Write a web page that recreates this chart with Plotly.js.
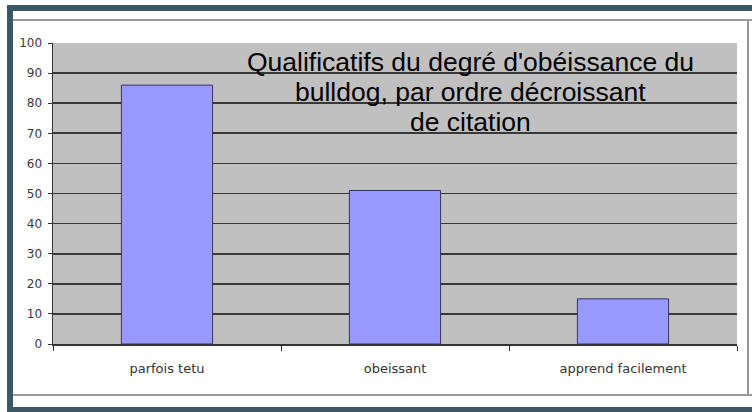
<!DOCTYPE html>
<html>
<head>
<meta charset="utf-8">
<script src="https://cdn.plot.ly/plotly-3.0.1.min.js"></script>
<style>
  html, body { margin: 0; padding: 0; background: #fff; }
  #chart { width: 752px; height: 412px; }
</style>
</head>
<body>
<div id="chart"></div>
<script>
// values
const categories = ['parfois tetu', 'obeissant', 'apprend facilement'];
const citations = [86, 51, 15];
const yTicks = [0, 10, 20, 30, 40, 50, 60, 70, 80, 90, 100];
const titleLines = ["Qualificatifs du degré d'obéissance du", 'bulldog, par ordre décroissant', 'de citation'];

// plot box in pixels
const W = 752, H = 412;
const M = {l: 53, r: 15, t: 43, b: 68};
const pw = W - M.l - M.r, ph = H - M.t - M.b;
const px = (x) => (x - M.l) / pw;
const py = (y) => (H - M.b - y) / ph;

const frame = '#3a5866';

// one annotation per title line, 30px apart
const titleNotes = titleLines.map((t, i) => ({
  text: t,
  xref: 'paper', yref: 'paper',
  x: px(470), y: py(62 + 30 * i),
  xanchor: 'center', yanchor: 'middle',
  showarrow: false,
  font: {family: 'Liberation Sans, Arial, sans-serif', size: 26.5, color: '#000'}
}));

Plotly.newPlot('chart', [{
  type: 'bar',
  x: categories,
  y: citations,
  width: 0.4,
  marker: {color: '#9999ff', line: {color: '#333366', width: 1}},
  hoverinfo: 'x+y'
}], {
  width: W,
  height: H,
  margin: M,
  paper_bgcolor: '#ffffff',
  plot_bgcolor: '#c0c0c0',
  showlegend: false,
  font: {family: 'DejaVu Sans, sans-serif'},
  xaxis: {
    type: 'category',
    showgrid: false,
    showline: true,
    linecolor: '#333',
    linewidth: 1.5,
    ticks: 'outside',
    tickson: 'boundaries',
    ticklen: 5,
    tickcolor: '#333',
    ticklabelstandoff: 12,
    tickfont: {size: 13, color: '#333'}
  },
  yaxis: {
    range: [0, 100],
    tickvals: yTicks,
    showgrid: true,
    gridcolor: '#383838',
    gridwidth: 1.7,
    zeroline: false,
    showline: true,
    linecolor: '#333',
    linewidth: 1.5,
    ticks: 'outside',
    ticklen: 4,
    tickcolor: '#333',
    ticklabelstandoff: 3,
    tickfont: {size: 12, color: '#3a3a3a'}
  },
  annotations: titleNotes,
  shapes: [
    // inner panel edges
    {type: 'line', xref: 'paper', yref: 'paper', x0: px(13), x1: px(752), y0: py(20), y1: py(20), line: {color: '#9a9a9a', width: 2}},
    {type: 'line', xref: 'paper', yref: 'paper', x0: px(13), x1: px(752), y0: py(395), y1: py(395), line: {color: '#9a9a9a', width: 2}},
    {type: 'line', xref: 'paper', yref: 'paper', x0: px(748), x1: px(748), y0: py(20), y1: py(395), line: {color: '#9a9a9a', width: 2}},
    // dark outer frame
    {type: 'rect', xref: 'paper', yref: 'paper', x0: px(10), x1: px(780), y0: py(8), y1: py(410), line: {color: frame, width: 6}}
  ]
}, {displayModeBar: false, staticPlot: true});
</script>
</body>
</html>
